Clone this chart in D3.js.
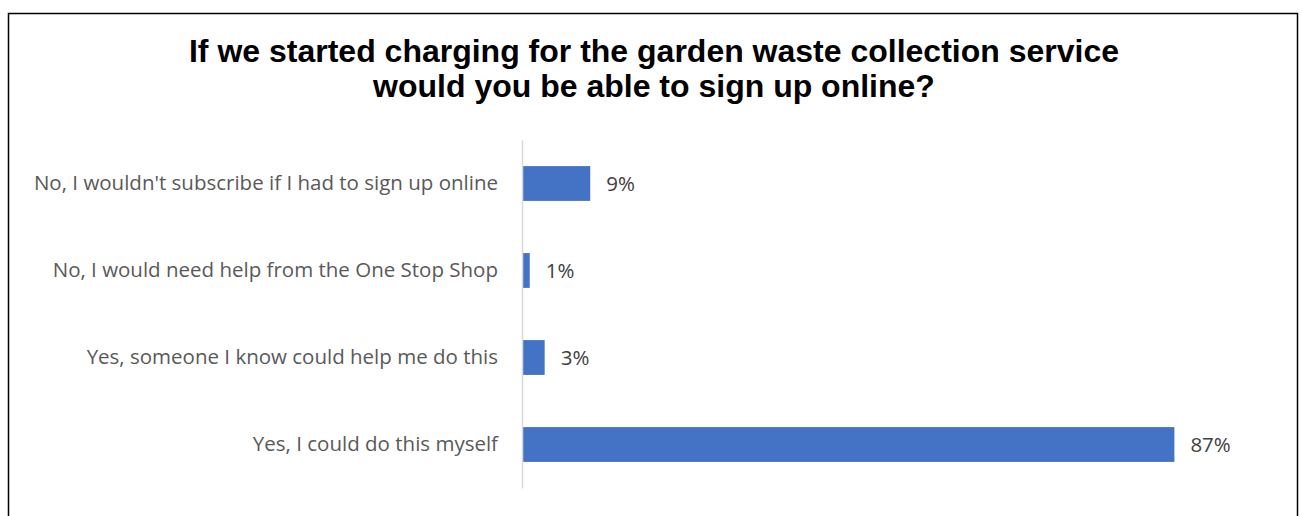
<!DOCTYPE html>
<html>
<head>
<meta charset="utf-8">
<script src="https://cdn.jsdelivr.net/npm/d3@7"></script>
<style>
  body { margin: 0; background: #fff; }
</style>
</head>
<body>
<svg></svg>
<script>
// data
var categories = [
  "No, I wouldn't subscribe if I had to sign up online",
  "No, I would need help from the One Stop Shop",
  "Yes, someone I know could help me do this",
  "Yes, I could do this myself"
];
var values = [9.0, 0.9, 2.9, 87.2];
var titleLines = [
  "If we started charging for the garden waste collection service",
  "would you be able to sign up online?"
];

var W = 1302, H = 516;
var svg = d3.select("svg")
  .attr("width", W)
  .attr("height", H);

// chart frame
svg.append("rect")
  .attr("x", 8.5)
  .attr("y", 13.5)
  .attr("width", 1289)
  .attr("height", 530)
  .style("fill", "none")
  .style("stroke", "#000")
  .style("stroke-width", 1.5);

// title
svg.append("text")
  .attr("x", 654)
  .attr("y", 62)
  .attr("text-anchor", "middle")
  .style("font-family", "'Liberation Sans', Arial, sans-serif")
  .style("font-weight", "bold")
  .style("font-size", "32px")
  .style("fill", "#000")
  .selectAll("tspan")
  .data(titleLines)
  .enter().append("tspan")
  .attr("x", 654)
  .attr("dy", function(d, i) { return i === 0 ? 0 : 35; })
  .text(function(d) { return d; });

// scales
var x = d3.scaleLinear()
  .domain([0, 100])
  .range([523, 1270]);

var y = d3.scaleBand()
  .domain(categories)
  .range([140, 488])
  .paddingInner(0.6)
  .paddingOuter(0.3);

// bars
svg.selectAll(".bar")
  .data(values)
  .enter().append("rect")
  .attr("class", "bar")
  .attr("x", x(0))
  .attr("y", function(d, i) { return y(categories[i]); })
  .attr("width", function(d) { return x(d) - x(0); })
  .attr("height", y.bandwidth())
  .style("fill", "#4472c4");

// category axis
var yAxis = svg.append("g")
  .attr("transform", "translate(522,0)")
  .call(d3.axisLeft(y).tickSize(0).tickPadding(24));

yAxis.select(".domain")
  .style("stroke", "#d9d9d9")
  .style("stroke-width", 1.5);

yAxis.selectAll("text")
  .style("font-family", "'Open Sans', sans-serif")
  .style("font-size", "20.5px")
  .style("fill", "#595959");

// value labels
svg.selectAll(".val")
  .data(values)
  .enter().append("text")
  .attr("class", "val")
  .attr("x", function(d) { return x(d) + 16; })
  .attr("y", function(d, i) { return y(categories[i]) + y.bandwidth() / 2; })
  .attr("dy", "0.35em")
  .style("font-family", "'Open Sans', sans-serif")
  .style("font-size", "20.5px")
  .style("fill", "#404040")
  .text(function(d) { return Math.round(d) + "%"; });
</script>
</body>
</html>
